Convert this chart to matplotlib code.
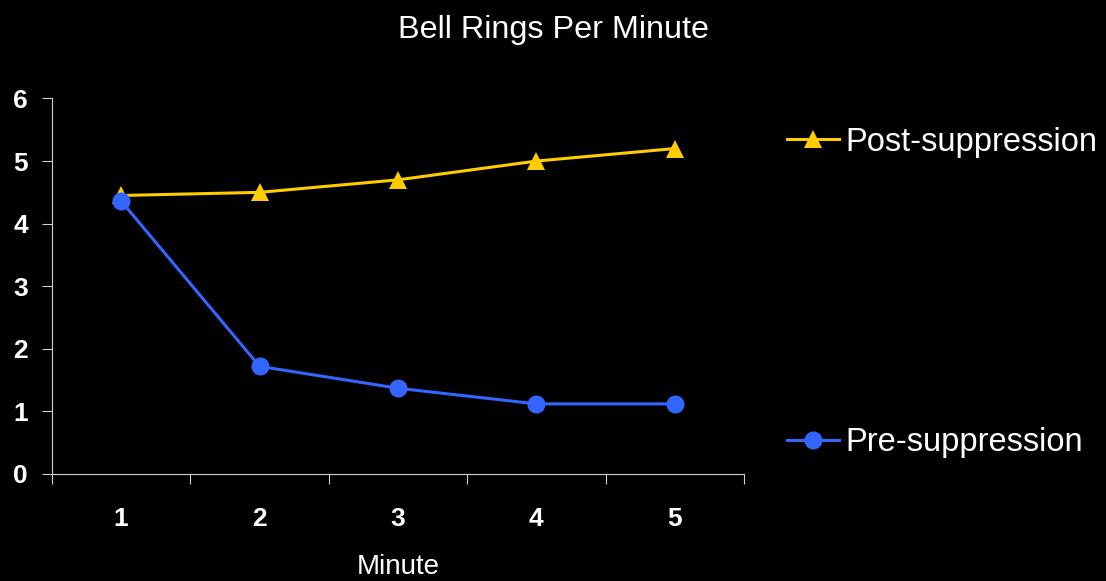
import matplotlib
matplotlib.use("Agg")
import matplotlib.pyplot as plt
from matplotlib.lines import Line2D

# Data
minutes = [1, 2, 3, 4, 5]
minute_labels = ["1", "2", "3", "4", "5"]
post_suppression = [4.45, 4.5, 4.7, 5.0, 5.2]
pre_suppression = [4.36, 1.72, 1.37, 1.12, 1.12]
y_ticks = [0, 1, 2, 3, 4, 5, 6]

YELLOW = "#FFCC00"
BLUE = "#3366FF"
FONT = "Liberation Sans"

fig = plt.figure(figsize=(11.06, 5.81), dpi=100, facecolor="black")
ax = fig.add_axes([0.047, 0.1842, 0.6257, 0.6463])
ax.set_facecolor("black")

ax.plot(minutes, post_suppression, color=YELLOW, lw=2.2, marker="^",
        markersize=13, markeredgewidth=0, zorder=3)
ax.plot(minutes, pre_suppression, color=BLUE, lw=2.2, marker="o",
        markersize=13, markeredgewidth=0, zorder=4)

ax.set_xlim(0.5, 5.5)
ax.set_ylim(0, 6)

# tick marks between categories, labels centred on categories
ax.set_xticks([0.5, 1.5, 2.5, 3.5, 4.5, 5.5])
ax.set_xticklabels([])
ax.set_xticks(minutes, minor=True)
ax.set_xticklabels(minute_labels, minor=True)
ax.tick_params(axis="x", which="major", length=7.2, width=0.8, color="#d0d0d0",
               direction="out")
ax.tick_params(axis="x", which="minor", length=0, pad=24, labelcolor="white",
               labelsize=19)
ax.set_yticks(y_ticks)
ax.tick_params(axis="y", length=7.2, width=0.8, color="#d0d0d0", direction="out",
               pad=10, labelcolor="white", labelsize=19)
for lbl in ax.get_xticklabels(minor=True) + ax.get_yticklabels():
    lbl.set_fontfamily(FONT)
    lbl.set_fontweight("bold")

for side in ("top", "right"):
    ax.spines[side].set_visible(False)
for side in ("left", "bottom"):
    ax.spines[side].set_color("#d0d0d0")
    ax.spines[side].set_linewidth(0.8)

ax.set_xlabel("Minute", color="white", fontsize=20, fontfamily=FONT, labelpad=16)
fig.text(0.5, 0.948, "Bell Rings Per Minute", color="white", fontsize=23.3,
         fontfamily=FONT, ha="center", va="center")

# legend entries, placed separately on the right
post_handle = Line2D([], [], color=YELLOW, lw=2.2, marker="^", markersize=13,
                     markeredgewidth=0)
pre_handle = Line2D([], [], color=BLUE, lw=2.2, marker="o", markersize=13,
                    markeredgewidth=0)
common = dict(frameon=False, handlelength=1.6, handletextpad=0.2,
              borderpad=0, borderaxespad=0, loc="center left",
              prop={"family": FONT, "size": 23.5}, labelcolor="white")
fig.legend([post_handle], ["Post-suppression"],
           bbox_to_anchor=(787 / 1106, 1 - 142 / 581), **common)
fig.legend([pre_handle], ["Pre-suppression"],
           bbox_to_anchor=(787 / 1106, 1 - 443 / 581), **common)

fig.savefig("out.png", dpi=100, facecolor="black")
